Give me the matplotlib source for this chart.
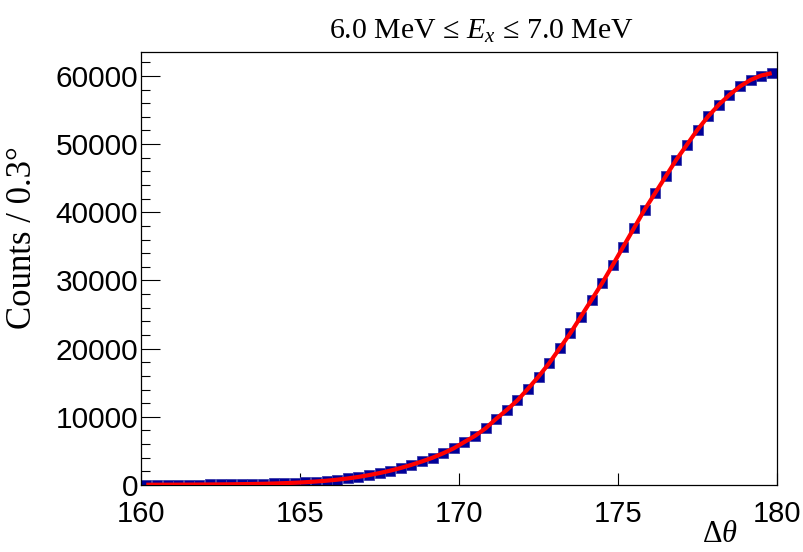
import numpy as np
import matplotlib
matplotlib.use("Agg")
from matplotlib import pyplot as plt
from matplotlib.ticker import MultipleLocator

#### DATA  (histogram of delta theta, 60 bins between 160 and 180 deg)
theta_min = 160.0
theta_max = 180.0
n_bins = 60
counts = [40, 45, 50, 55, 60, 70, 80, 90, 105, 125,
          150, 180, 220, 270, 330, 410, 510, 630, 780, 960,
          1180, 1450, 1750, 2100, 2500, 2950, 3450, 4000, 4650, 5380,
          6300, 7200, 8300, 9700, 11000, 12400, 14100, 15900, 17850, 20050,
          22250, 24700, 27150, 29600, 32250, 34950, 37650, 40350, 42800, 45250,
          47700, 49900, 52100, 54050, 55750, 57200, 58450, 59400, 60050, 60400]
x_ticks = [160, 165, 170, 175, 180]
y_ticks = [0, 10000, 20000, 30000, 40000, 50000, 60000]

title_txt = "6.0 MeV ≤ $E_x$ ≤ 7.0 MeV"
ylabel_txt = "Counts / 0.3°"
xlabel_txt = r"$\Delta\theta$"

edges = np.linspace(theta_min, theta_max, n_bins + 1)
centers = 0.5 * (edges[:-1] + edges[1:])

#### STYLE
plt.rcParams['mathtext.fontset'] = 'custom'
plt.rcParams['mathtext.rm'] = 'Liberation Serif'
plt.rcParams['mathtext.it'] = 'Liberation Serif:italic'
serif = 'Liberation Serif'
sans = 'Liberation Sans'

fig = plt.figure(figsize=(8.04, 5.52), dpi=100)
ax = fig.add_axes([141/804, 1 - 485/552, 636/804, 433/552])

#### PLOT
ax.plot(centers, counts, ls='none', marker='s', ms=7.4,
        color='#000099', mec='#3a3aaa', mew=0.6, zorder=2)
ax.plot(centers, counts, color='#ff0000', lw=3.0, zorder=3,
        solid_capstyle='butt')

ax.set_xlim(theta_min, theta_max)
ax.set_ylim(0, 63500)
ax.set_xticks(x_ticks)
ax.set_yticks(y_ticks)
ax.yaxis.set_minor_locator(MultipleLocator(2000))

ax.tick_params(axis='x', which='major', direction='in', length=8.6, width=0.8,
               labelsize=21, pad=11, top=False)
ax.tick_params(axis='y', which='major', direction='in', length=13.4, width=0.8,
               labelsize=21.5, pad=2, right=False)
ax.tick_params(axis='y', which='minor', direction='in', length=6.7, width=0.8,
               right=False)
for lab in ax.get_xticklabels() + ax.get_yticklabels():
    lab.set_fontfamily(sans)
for sp in ax.spines.values():
    sp.set_linewidth(0.9)

#### TEXT
fig.text(481/804, 1 - 31/552, title_txt, ha='center', va='center',
         fontsize=21.5, family=serif)
fig.text(23/804, 1 - 238/552, ylabel_txt, ha='center', va='center',
         rotation=90, fontsize=25, family=serif)
fig.text(738/804, 1 - 535/552, xlabel_txt, ha='right', va='center',
         fontsize=22, family=serif)

fig.savefig('out.png', dpi=100)
